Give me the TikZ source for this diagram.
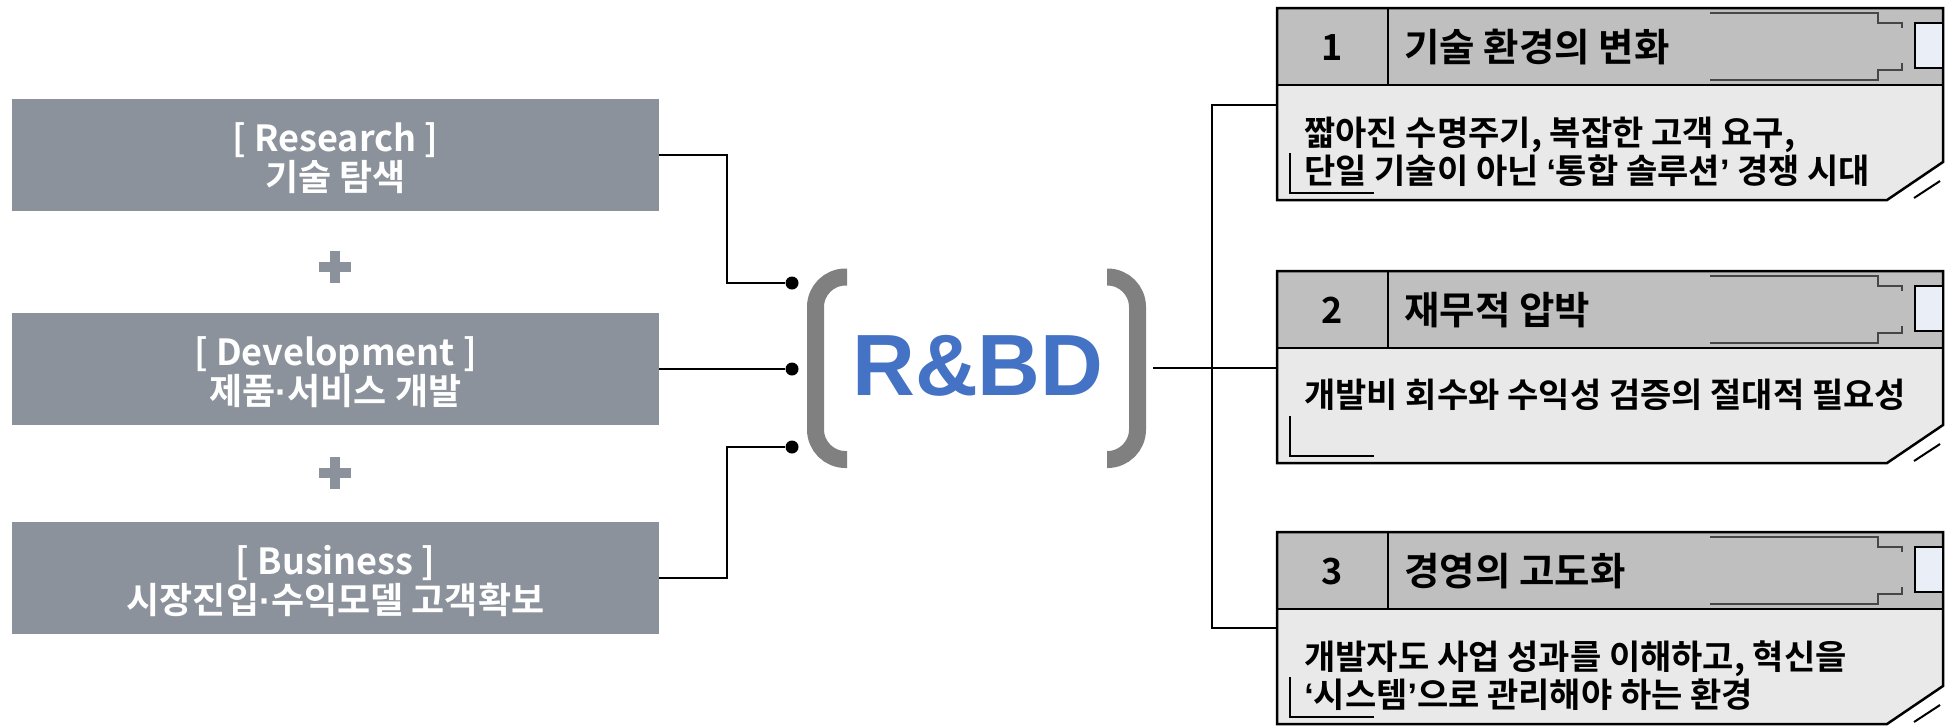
\documentclass[tikz,border=0pt]{standalone}
\usepackage{fontspec}
\setmainfont{Noto Sans CJK KR}[BoldFont={Noto Sans CJK KR Bold}]
\newfontfamily\latinb{Liberation Sans}
\newcommand\krqo{{\latinb\bfseries ‘}}
\newcommand\krqc{{\latinb\bfseries ’}}
\newcommand\krdot{{\latinb\bfseries ·}}
\usetikzlibrary{calc}
\definecolor{boxgray}{RGB}{139,146,155}
\definecolor{hdrgray}{RGB}{191,191,191}
\definecolor{bodygray}{RGB}{233,233,233}
\definecolor{brk}{RGB}{128,128,128}
\definecolor{rbdblue}{RGB}{68,114,196}
\definecolor{tabblue}{RGB}{233,238,247}
\definecolor{decoc}{RGB}{70,70,70}
\tikzset{
  leftbox/.style={fill=boxgray, minimum width=323.5pt, minimum height=56pt, inner sep=0pt},
  lefttext/.style={text=white, inner sep=0pt, font=\bfseries\fontsize{18pt}{19.5pt}\selectfont, align=center},
  conn/.style={line width=1.25pt, black},
  dotnode/.style={circle, fill=black, inner sep=0pt, minimum size=6.5pt},
  cardline/.style={line width=1.25pt, black},
  decoline/.style={line width=0.6pt, decoc},
  numtext/.style={font=\bfseries\fontsize{18pt}{20pt}\selectfont, inner sep=0pt},
  titletext/.style={font=\bfseries\fontsize{19.25pt}{21pt}\selectfont, inner sep=0pt, anchor=west},
  bodytext/.style={font=\bfseries\fontsize{17pt}{19pt}\selectfont, inner sep=0pt, anchor=west, align=left},
  cardbody/.style={minimum width=333pt, minimum height=57.5pt, inner sep=0pt},
  bracket/.style={line width=8.5pt, brk, rounded corners=15pt},
  plusc/.style={fill=boxgray}
}
% #1 name, #2 top y, #3 number, #4 title, #5 body text, #6 body text y
\newcommand\rdcard[6]{%
  \begin{scope}[shift={(0,#2)}]
    \fill[hdrgray] (1277,0) rectangle (1943,77);
    \fill[bodygray] (1277,77) -- (1943,77) -- (1943,154) -- (1887,192) -- (1277,192) -- cycle;
    \draw[decoline] (1710,5) -- (1878,5) -- (1878,15) -- (1902,15) -- (1902,20)
                    (1902,55) -- (1902,62) -- (1878,62) -- (1878,72) -- (1710,72);
    \draw[cardline] (1277,0) -- (1943,0) -- (1943,154) -- (1887,192) -- (1277,192) -- cycle;
    \draw[cardline] (1277,77) -- (1943,77);
    \draw[line width=1pt] (1388,0) -- (1388,77);
    \draw[cardline, fill=tabblue] (1915,15) rectangle (1943,60);
    \draw[line width=0.75pt] (1290,145) -- (1290,185) -- (1374,185);
    \draw[line width=1pt] (1914,190) -- (1940,173);
    \node[numtext] (#1n) at (1332,39.5) {#3};
    \node[titletext] (#1t) at (1404,39.5) {#4};
    \node[bodytext] (#1x) at (1304,#6) {#5};
    \node[cardbody] (#1) at (1610,134.5) {};
  \end{scope}}

\begin{document}
\begin{tikzpicture}[x=0.5pt,y=-0.5pt]
\useasboundingbox[fill=white] (0,0) rectangle (1949,725);

% left boxes
\node[leftbox] (b1) at (335.5,155) {};
\node[leftbox] (b2) at (335.5,369) {};
\node[leftbox] (b3) at (335.5,578) {};
\node[lefttext] (b1t) at (335.5,158) {[ Research ]\\기술 탐색};
\node[lefttext] (b2t) at (335.5,372) {[ Development ]\\제품\krdot 서비스 개발};
\node[lefttext] (b3t) at (335.5,581) {[ Business ]\\시장진입\krdot 수익모델 고객확보};

% plus signs
\fill[plusc] (319,262) rectangle (351,272);
\fill[plusc] (330,251) rectangle (340,283);
\fill[plusc] (319,468) rectangle (351,478);
\fill[plusc] (330,457) rectangle (340,489);

% dots
\node[dotnode] (d1) at (792,283) {};
\node[dotnode] (d2) at (792,369) {};
\node[dotnode] (d3) at (792,447) {};

\draw[conn] (b1.east) -- (727,155) |- (d1);
\draw[conn] (b2.east) -- (d2);
\draw[conn] (b3.east) -- (727,578) |- (d3);

% brackets and R&BD
\draw[bracket] (847,277) -| (815.5,368) |- (847,459.5);
\draw[bracket] (1107,277) -| (1137.5,368) |- (1107,459.5);
\node[font=\latinb\bfseries\fontsize{43.5pt}{46pt}\selectfont, text=rbdblue, inner sep=0pt] (rbd) at (978,366) {R\&BD};

% cards
\rdcard{c1}{8}{1}{기술 환경의 변화}{짧아진 수명주기, 복잡한 고객 요구,\\단일 기술이 아닌 \krqo 통합 솔루션\krqc\ 경쟁 시대}{144}
\rdcard{c2}{271}{2}{재무적 압박}{개발비 회수와 수익성 검증의 절대적 필요성}{124}
\rdcard{c3}{532}{3}{경영의 고도화}{개발자도 사업 성과를 이해하고, 혁신을\\\krqo 시스템\krqc 으로 관리해야 하는 환경}{144}

% right connectors
\coordinate (rbr) at (1153,368);
\coordinate (rtop) at (1212,105);
\coordinate (rbot) at (1212,628);
\draw[conn] (rbr) -- (c2.west |- rbr);
\draw[conn] (c1.west |- rtop) -- (rtop) -- (rbot) -- (c3.west |- rbot);
\end{tikzpicture}
\end{document}
